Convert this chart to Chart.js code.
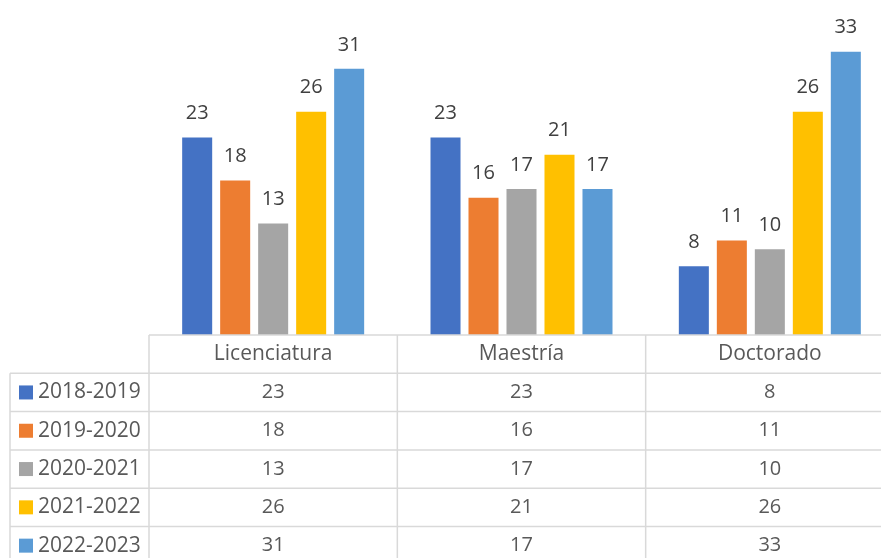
<!DOCTYPE html>
<html>
<head>
<meta charset="utf-8">
<script src="https://cdn.jsdelivr.net/npm/chart.js@4.4.1/dist/chart.umd.min.js"></script>
<style>
  html, body { margin: 0; padding: 0; background: #fff; overflow: hidden; }
  #wrap { width: 894px; height: 570px; }
</style>
</head>
<body>
<div id="wrap"><canvas id="myChart" width="894" height="570"></canvas></div>
<script>
const categories = ['Licenciatura', 'Maestría', 'Doctorado'];
const seriesNames = ['2018-2019', '2019-2020', '2020-2021', '2021-2022', '2022-2023'];
const s2018 = [23, 23, 8];
const s2019 = [18, 16, 11];
const s2020 = [13, 17, 10];
const s2021 = [26, 21, 26];
const s2022 = [31, 17, 33];
const seriesColors = ['#4472c4', '#ed7d31', '#a5a5a5', '#ffc000', '#5b9bd5'];

const FONT = '"Open Sans", sans-serif';
const ROW_H = 38.3;

// value labels over each bar
const barLabels = {
    id: 'barLabels',
    afterDatasetsDraw(chart) {
        const c = chart.ctx;
        c.save();
        c.font = '20px ' + FONT;
        c.fillStyle = '#404040';
        c.textAlign = 'center';
        c.textBaseline = 'middle';
        chart.data.datasets.forEach(function(ds, i) {
            chart.getDatasetMeta(i).data.forEach(function(bar, j) {
                c.fillText(String(ds.data[j]), bar.x, bar.y - 24);
            });
        });
        c.restore();
    }
};

// data table under the plot
const dataTable = {
    id: 'dataTable',
    afterDraw(chart) {
        const c = chart.ctx;
        const xs = chart.scales.x;
        const area = chart.chartArea;
        const top = area.bottom;
        const colW = (area.right - area.left) / categories.length;
        const rows = chart.data.datasets.length;
        const bottom = top + ROW_H * (rows + 1);
        const leftX = 10;

        c.save();
        c.strokeStyle = '#d9d9d9';
        c.lineWidth = 1.5;
        c.beginPath();
        c.moveTo(area.left, top); c.lineTo(area.right, top);
        for (let r = 1; r <= rows + 1; r++) {
            c.moveTo(leftX, top + ROW_H * r); c.lineTo(area.right, top + ROW_H * r);
        }
        c.moveTo(leftX, top + ROW_H); c.lineTo(leftX, bottom);
        for (let k = 0; k <= categories.length; k++) {
            c.moveTo(area.left + colW * k, top); c.lineTo(area.left + colW * k, bottom);
        }
        c.stroke();

        c.font = '21px ' + FONT;
        c.fillStyle = '#595959';
        c.textBaseline = 'middle';
        c.textAlign = 'center';
        categories.forEach(function(cat, j) {
            c.fillText(cat, xs.getPixelForTick(j), top + ROW_H / 2);
        });

        chart.data.datasets.forEach(function(ds, i) {
            const cy = top + ROW_H * (i + 1.5);
            c.fillStyle = ds.backgroundColor;
            c.fillRect(19, cy - 7, 14, 14);
            c.fillStyle = '#595959';
            c.textAlign = 'left';
            c.font = '21px ' + FONT;
            c.fillText(ds.label, 38, cy);
            c.textAlign = 'center';
            c.font = '20px ' + FONT;
            ds.data.forEach(function(v, j) {
                c.fillText(String(v), xs.getPixelForTick(j), cy);
            });
        });
        c.restore();
    }
};

const allSeries = [s2018, s2019, s2020, s2021, s2022];

const ctx = document.getElementById('myChart').getContext('2d');
const myChart = new Chart(ctx, {
    type: 'bar',
    data: {
        labels: categories,
        datasets: allSeries.map(function(d, i) {
            return {
                label: seriesNames[i],
                data: d,
                backgroundColor: seriesColors[i],
                borderWidth: 0,
                categoryPercentage: 0.765,
                barPercentage: 0.79
            };
        })
    },
    options: {
        responsive: false,
        animation: false,
        devicePixelRatio: 1,
        layout: { padding: { left: 149, right: 0, top: 34.5, bottom: 235 } },
        scales: {
            x: { display: false },
            y: { display: false, min: 0, max: 35 }
        },
        plugins: {
            legend: { display: false },
            tooltip: { enabled: false }
        }
    },
    plugins: [barLabels, dataTable]
});
</script>
</body>
</html>
